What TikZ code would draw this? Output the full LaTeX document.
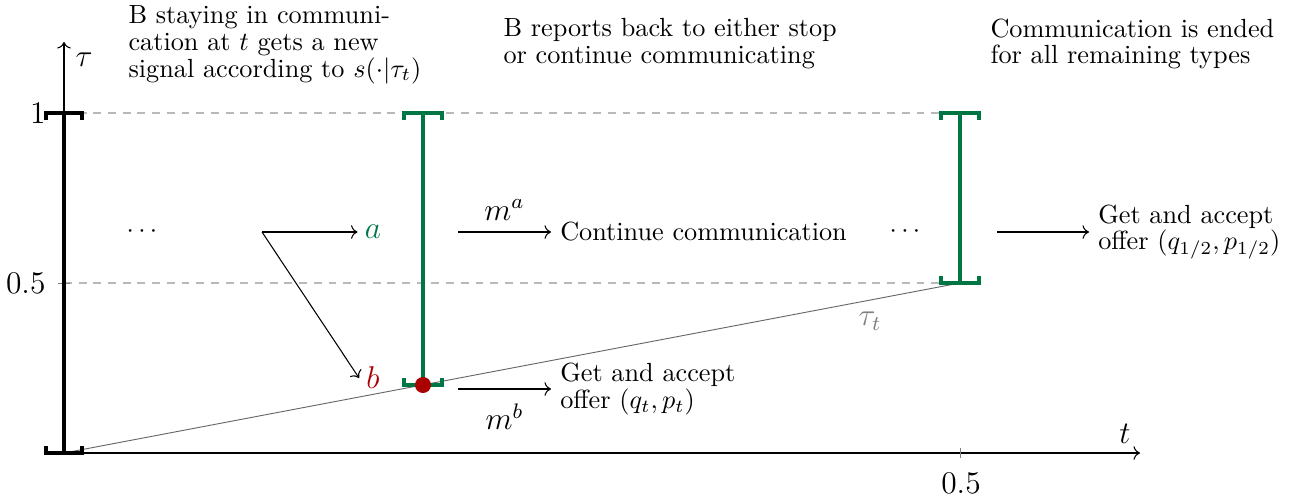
\documentclass[tikz,border=0pt]{standalone}
\usetikzlibrary{arrows.meta}
\definecolor{mygreen}{RGB}{0,118,68}
\definecolor{myred}{RGB}{170,0,0}
\newcommand\ibar[5]{% x, ytop, ybot, halfwidth/tick, style
  \draw[#5] (#1-#4,#2+7) -- (#1-#4,#2) -- (#1+#4,#2) -- (#1+#4,#2+7)
            (#1,#2) -- (#1,#3)
            (#1-#4,#3-7) -- (#1-#4,#3) -- (#1+#4,#3) -- (#1+#4,#3-7);}
\begin{document}
\begin{tikzpicture}[x=0.381pt,y=-0.381pt,
  txt/.style={inner sep=0pt, align=left, font=\fontsize{10}{10.2}\selectfont},
  lbl/.style={inner sep=0pt, font=\large},
  conn/.style={->, line width=0.4pt},
  guide/.style={gray!55, line width=0.4pt, dash pattern=on 3pt off 2.6pt},
  axis/.style={->, line width=0.4pt},
  blackbar/.style={line width=1.5pt, line join=miter, line cap=butt},
  greenbar/.style={mygreen, line width=1.3pt, line join=miter, line cap=butt},
  tauline/.style={black!60, line width=0.35pt}]
\useasboundingbox (0,0) rectangle (1297,499);

% coordinates
\coordinate (O) at (64,453);
\coordinate (Ytop) at (64,42);
\coordinate (Xend) at (1140,453);
\coordinate (P1) at (64,113);
\coordinate (Ph) at (64,283);
\coordinate (Q1) at (960,113);
\coordinate (Qh) at (960,283);
\coordinate (R) at (423,385);

% guides
\draw[guide] (P1) -- (Q1);
\draw[guide] (Ph) -- (Qh);

% axes
\draw[axis] (O) -- (Xend);
\draw[axis] (O) -- (Ytop);
\draw[gray, line width=0.3pt] (960,448) -- (960,458);
\draw[gray, line width=0.3pt] (58,283) -- (70,283);

% tau_t line
\draw[tauline] (O) -- (Qh);

% bars
\ibar{64}{113}{453}{18}{blackbar}
\ibar{423}{113}{385}{19}{greenbar}
\ibar{960}{113}{283}{19}{greenbar}
\fill[myred] (R) circle (8);

% axis labels
\node[lbl, anchor=east] (one) at (46,113) {1};
\node[lbl, anchor=east] (half) at (46,283) {0.5};
\node[lbl] (thalf) at (961,483) {0.5};
\node[lbl] (tlab) at (1125,434) {$t$};
\node[lbl] (taulab) at (84,60) {$\tau$};
\node[lbl, text=gray] (taut) at (870,321) {$\tau_t$};

% top texts
\node[txt, anchor=north west] (txt1) at (128,5) {B staying in communi-\\cation at $t$ gets a new\\signal according to $s(\cdot|\tau_t)$};
\node[txt, anchor=north west] (txt2) at (503,18) {B reports back to either stop\\or continue communicating};
\node[txt, anchor=north west] (txt3) at (990,18) {Communication is ended\\for all remaining types};

% signals
\node[inner sep=0pt] (dl) at (142,232) {$\cdots$};
\coordinate (sp) at (262,232);
\node[font=\large, inner sep=2.6pt] (a) at (373,232) {\color{mygreen}$a$};
\node[font=\large, inner sep=2.6pt] (b) at (373,378) {\color{myred}$b$};
\draw[conn] (sp) -- (a.west);
\draw[conn] (sp) -- (b.west);

% reports
\coordinate (ma) at (458,232);
\coordinate (mb) at (458,389);
\node[anchor=west] (cont) at (551,232) {Continue communication};
\node[anchor=west, align=left, font=\fontsize{10}{10.2}\selectfont] (getb) at (551,389) {Get and accept\\offer $(q_t,p_t)$};
\draw[conn] (ma) -- (cont.west) node[midway, above=1pt, font=\large] (malab) {$m^a$};
\draw[conn] (mb) -- (mb -| getb.west) node[midway, below=2pt, font=\large] (mblab) {$m^b$};

\node[inner sep=0pt] (dr) at (905,232) {$\cdots$};
\coordinate (fa) at (997,232);
\node[anchor=west, align=left, font=\fontsize{10}{10.2}\selectfont] (geth) at (1089,232) {Get and accept\\offer $(q_{1/2},p_{1/2})$};
\draw[conn] (fa) -- (geth.west);
\end{tikzpicture}
\end{document}
